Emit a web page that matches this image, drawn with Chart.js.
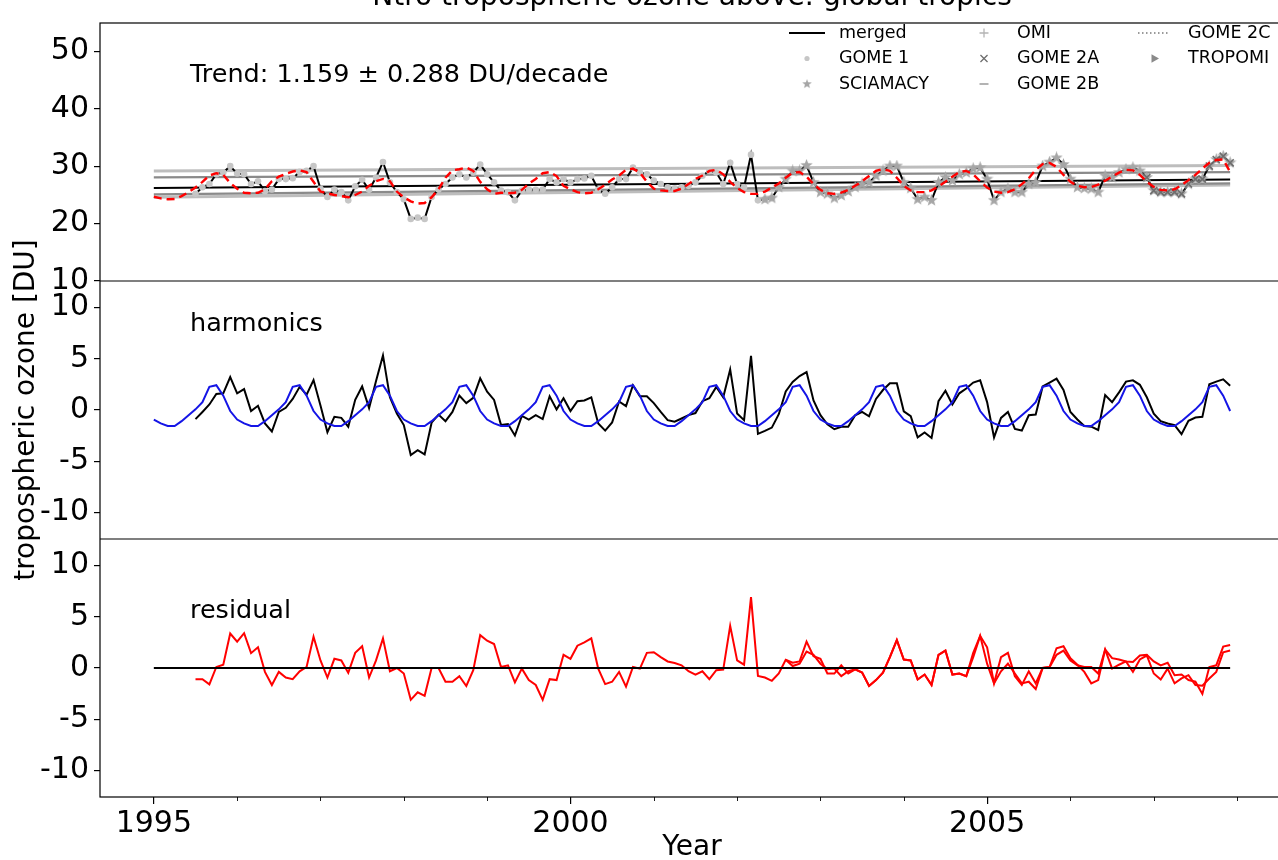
<!DOCTYPE html>
<html>
<head>
<meta charset="utf-8">
<title>tropospheric ozone</title>
<script src="https://cdn.jsdelivr.net/npm/chart.js@4.4.1/dist/chart.umd.min.js"></script>
<style>
  html, body { margin: 0; padding: 0; background: #fff; overflow: hidden; }
  #wrap { position: relative; width: 1291px; height: 860px; }
</style>
</head>
<body>
<div id="wrap"><canvas id="ozoneChart" width="1291" height="860"></canvas></div>
<script>
// monthly series, index 0 = Jan 1995
const startYear = 1995;

const merged = [
  null, null, null, null, null, null,
  25.21, 26.35, 26.92, 28.63, 28.91, 30.05, 28.74, 28.63, 26.92, 27.38, 25.67, 25.96,
  27.77, 27.77, 27.94, 29.03, 29.2, 30.05, 26.07, 24.64, 25.96, 25.5, 24.07, 26.52,
  27.67, 25.9, 28.06, 30.74, 27.2, 25.5, 24.25, 20.83, 21.05, 20.83, 24.64, 25.96,
  26.92, 28.06, 28.63, 28.06, 28.91, 30.33, 28.63, 27.2, 25.78, 25.5, 24.07, 25.78,
  25.96, 25.9, 25.96, 27.77, 27.2, 27.77, 27.2, 27.77, 27.88, 28.35, 25.96, 25.21,
  26.35, 27.77, 27.77, 29.77, 28.91, 28.63, 27.5, 26.92, 26.35, 26.18, 26.35, 26.6,
  27.2, 28.35, 29.2, 28.91, 26.92, 30.62, 26.92, 26.35, 32.04, 24.07, 24.25, 24.47,
  26.35, 27.77, 29.2, 29.2, 30.16, 27.2, 25.5, 25.21, 24.47, 24.93, 25.62, 26.35,
  26.92, 27.2, 28.35, 29.2, 30.05, 30.05, 27.2, 26.18, 24.25, 24.64, 24.07, 27.2,
  28.06, 27.5, 28.63, 28.91, 29.6, 29.77, 27.77, 24.07, 25.5, 26.07, 25.5, 25.5,
  26.92, 27.2, 30.05, 30.74, 31.48, 30.33, 27.77, 26.35, 26.18, 26.07, 25.5, 28.35,
  28.06, 28.91, 29.48, 29.77, 29.2, 28.06, 25.78, 25.5, 25.5, 25.5, 25.21, 26.92,
  27.77, 27.77, 30.05, 31.19, 31.77, 30.62
];

// trend + harmonics fit (red dashed)
const fitted = [
  24.7, 24.4, 24.25, 24.3, 24.8, 25.5, 26.3, 27.3, 28.4, 28.8, 28.5, 27.1,
  26.1, 25.4, 25.3, 25.4, 26.0, 27.4, 28.2, 28.7, 29.1, 29.3, 29.0, 27.3,
  25.6, 25.3, 25.0, 24.8, 24.6, 25.0, 25.6, 26.6, 27.4, 27.8, 27.4, 25.6,
  24.6, 23.9, 23.5, 23.6, 24.6, 26.0, 28.0, 29.3, 29.5, 29.8, 29.2, 27.3,
  26.0, 25.2, 25.4, 25.3, 25.4, 25.9, 27.0, 27.8, 28.8, 29.0, 28.3, 26.6,
  26.0, 25.5, 25.3, 25.4, 26.0, 26.8, 27.7, 28.4, 29.4, 29.6, 28.9, 27.3,
  26.1, 25.8, 25.7, 25.7, 26.1, 26.9, 27.8, 28.4, 29.2, 29.4, 28.6, 27.3,
  26.2, 25.5, 25.2, 25.2, 25.6, 26.3, 27.0, 28.0, 28.9, 29.0, 28.2, 26.9,
  25.9, 25.3, 25.2, 25.4, 25.9, 26.6, 27.4, 28.3, 29.2, 29.5, 29.2, 28.0,
  26.6, 25.8, 25.5, 25.5, 25.8, 26.5, 27.3, 28.2, 29.0, 29.2, 28.6, 27.4,
  26.3, 25.6, 25.4, 25.5, 26.0, 26.9, 27.9, 29.4, 30.4, 30.6, 29.9, 28.5,
  27.3, 26.6, 26.35, 26.4, 26.8, 27.5, 28.2, 28.9, 29.4, 29.3, 28.5, 27.3,
  26.4, 25.9, 25.8, 26.0, 26.7, 27.6, 28.5, 29.6, 30.6, 31.1, 31.2, 29.0
];

// straight trend lines: value at first and last month
const trendMerged = [26.2, 27.7];
const trendUpperA = [29.2, 30.16];
const trendUpperB = [28.06, 29.0];
const trendLowerA = [25.1, 27.04];
const trendLowerB = [24.6, 26.75];

// deseasonalised data and harmonic fit
const harmData = [
  null, null, null, null, null, null,
  -0.89, -0.19, 0.54, 1.56, 1.63, 3.22, 1.63, 2.04, -0.1, 0.41, -1.31, -2.1,
  -0.19, 0.22, 1.08, 2.26, 1.5, 2.93, 0.45, -2.17, -0.67, -0.77, -1.63, 0.99,
  2.3, 0.19, 2.84, 5.33, 1.24, -0.35, -1.47, -4.4, -3.92, -4.34, -1.24, -0.45,
  -1.09, -0.19, 1.4, 0.67, 1.18, 3.09, 1.79, 0.99, -1.47, -1.37, -2.49, -0.57,
  -0.93, -0.51, -0.89, 1.34, 0.06, 1.15, -0.1, 0.86, 0.93, 1.24, -1.31, -2.01,
  -1.21, 0.83, 0.38, 2.42, 1.34, 1.34, 0.67, -0.19, -0.99, -1.15, -0.83, -0.5,
  -0.3, 0.86, 1.15, 2.26, 1.24, 3.96, -0.35, -0.99, 5.3, -2.33, -2.04, -1.72,
  -0.41, 1.82, 2.74, 3.32, 3.7, 0.93, -0.51, -1.4, -1.88, -1.63, -1.63, -0.51,
  -0.19, -0.61, 1.08, 1.95, 2.62, 2.62, -0.13, -0.61, -2.68, -2.2, -2.74, 0.86,
  1.88, 0.54, 1.63, 2.1, 2.68, 2.9, 0.77, -2.68, -0.77, -0.19, -1.85, -2.01,
  -0.51, -0.45, 2.3, 2.68, 3.06, 1.95, -0.19, -0.93, -1.56, -1.63, -1.95, 1.47,
  0.77, 1.72, 2.77, 2.9, 2.46, 1.24, -0.35, -1.09, -1.31, -1.47, -2.36, -1.05,
  -0.73, -0.67, 2.52, 2.77, 2.99, 2.36
];

const harmFit = [
  -0.93, -1.31, -1.56, -1.56, -1.09, -0.51, 0.06, 0.77, 2.26, 2.42, 1.4, -0.1,
  -0.93, -1.31, -1.56, -1.56, -1.09, -0.51, 0.06, 0.77, 2.26, 2.42, 1.4, -0.1,
  -0.93, -1.31, -1.56, -1.56, -1.09, -0.51, 0.06, 0.77, 2.26, 2.42, 1.4, -0.1,
  -0.93, -1.31, -1.56, -1.56, -1.09, -0.51, 0.06, 0.77, 2.26, 2.42, 1.4, -0.1,
  -0.93, -1.31, -1.56, -1.56, -1.09, -0.51, 0.06, 0.77, 2.26, 2.42, 1.4, -0.1,
  -0.93, -1.31, -1.56, -1.56, -1.09, -0.51, 0.06, 0.77, 2.26, 2.42, 1.4, -0.1,
  -0.93, -1.31, -1.56, -1.56, -1.09, -0.51, 0.06, 0.77, 2.26, 2.42, 1.4, -0.1,
  -0.93, -1.31, -1.56, -1.56, -1.09, -0.51, 0.06, 0.77, 2.26, 2.42, 1.4, -0.1,
  -0.93, -1.31, -1.56, -1.56, -1.09, -0.51, 0.06, 0.77, 2.26, 2.42, 1.4, -0.1,
  -0.93, -1.31, -1.56, -1.56, -1.09, -0.51, 0.06, 0.77, 2.26, 2.42, 1.4, -0.1,
  -0.93, -1.31, -1.56, -1.56, -1.09, -0.51, 0.06, 0.77, 2.26, 2.42, 1.4, -0.1,
  -0.93, -1.31, -1.56, -1.56, -1.09, -0.51, 0.06, 0.77, 2.26, 2.42, 1.4, -0.1,
  -0.93, -1.31, -1.56, -1.56, -1.09, -0.51, 0.06, 0.77, 2.26, 2.42, 1.4, -0.1
];

const residual = [
  null, null, null, null, null, null,
  -1.09, -1.09, -1.6, 0.1, 0.32, 3.37, 2.57, 3.4, 1.45, 2.02, -0.38, -1.66,
  -0.38, -0.93, -1.09, -0.32, 0.1, 3.05, 0.74, -0.93, 0.9, 0.74, -0.48, 1.48,
  2.12, -0.93, 0.74, 2.89, -0.32, 0.0, -0.54, -3.11, -2.37, -2.72, 0.0, 0.0,
  -1.34, -1.34, -0.8, -1.76, -0.22, 3.21, 2.66, 2.34, 0.1, 0.26, -1.41, -0.06,
  -1.18, -1.66, -3.11, -1.09, -1.18, 1.29, 0.9, 2.18, 2.5, 2.89, -0.06, -1.57,
  -1.34, -0.38, -1.82, 0.1, -0.06, 1.48, 1.54, 1.06, 0.64, 0.48, 0.26, -0.32,
  -0.64, -0.32, -1.09, -0.22, -0.16, 4.11, 0.74, 0.32, 6.93, -0.77, -0.93, -1.25,
  -0.54, 0.8, 0.51, 0.64, 2.57, 1.16, 0.9, -0.54, -0.54, 0.26, -0.54, -0.13,
  -0.45, -1.76, -1.18, -0.45, 1.06, 2.73, 0.83, 0.74, -1.12, -0.64, -1.66, 1.29,
  1.7, -0.64, -0.54, -0.8, 1.48, 3.14, 2.02, -1.5, 1.06, 1.48, -0.8, -1.66,
  -0.32, -1.5, 0.0, 0.1, 1.93, 2.12, 0.96, 0.32, -0.38, -1.5, -1.18, 1.8,
  0.96, 0.83, 0.64, 0.58, 1.22, 1.29, 0.64, 0.26, 0.51, -0.7, -0.64, -1.18,
  -1.34, -2.53, 0.1, 0.26, 2.09, 2.25
];

// second residual curve, starts at month 91
const residualAltStart = 91;
const residualAlt = [
  0.8, 0.19, 0.42, 1.61, 1.29, 0.42, -0.13, -0.06, -0.8, -0.32, -0.13, -0.45,
  -1.76, -1.18, -0.45, 1.06, 2.73, 0.83, 0.74, -1.12, -0.64, -1.66, 1.29, 1.7,
  -0.64, -0.54, -0.8, 1.06, 3.14, 0.42, -1.5, -0.32, 0.42, -0.54, -1.5, -1.34,
  -2.05, 0.0, 0.1, 1.29, 1.7, 0.74, 0.26, 0.1, 0.1, -0.54, 1.8, -0.06,
  0.32, 0.64, -0.38, 0.83, 1.22, -0.54, -1.12, -0.06, -1.5, -1.02, -0.7, -1.66,
  -1.73, -1.02, -0.38, 1.54, 1.7
];

// month ranges [first, last] where each instrument's markers show
const gome1Months = [6, 90];
const sciaMonths = [88, 155];
const gome2aMonths = [143, 155];

const legendLabels = [
  ['merged', 'GOME 1', 'SCIAMACY'],
  ['OMI', 'GOME 2A', 'GOME 2B'],
  ['GOME 2C', 'TROPOMI']
];
const trendText = 'Trend: 1.159 \u00b1 0.288 DU/decade';
const titleText = 'Ntro tropospheric ozone above: global tropics';
const yLabel = 'tropospheric ozone [DU]';

const FONT = '"DejaVu Sans", sans-serif';
const lastMonth = fitted.length - 1;
const yr = i => startYear + i / 12;
const pts = (arr, offset = 0) => arr.map((v, i) => ({ x: yr(i + offset), y: v }));
const endPts = arr => [{ x: yr(0), y: arr[0] }, { x: yr(lastMonth), y: arr[1] }];
const rangePts = r => pts(merged.slice(r[0], r[1] + 1), r[0]);

// filled star like matplotlib '*'
function starImage(size, color) {
  const c = document.createElement('canvas');
  c.width = c.height = size;
  const g = c.getContext('2d');
  const cx = size / 2, cy = size / 2, R = size / 2, r = R * 0.42;
  g.beginPath();
  for (let k = 0; k < 10; k++) {
    const ang = -Math.PI / 2 + k * Math.PI / 5;
    const rad = k % 2 === 0 ? R : r;
    g.lineTo(cx + rad * Math.cos(ang), cy + rad * Math.sin(ang));
  }
  g.closePath();
  g.fillStyle = color;
  g.fill();
  return c;
}
const starGray = starImage(13, '#a6a6a6');

const lineDs = (data, axis, color, width, order, extra = {}) => Object.assign({
  data, yAxisID: axis, borderColor: color, borderWidth: width, pointRadius: 0,
  fill: false, tension: 0, order
}, extra);

const datasets = [
  // top panel
  lineDs(pts(fitted), 'yTop', '#ff0000', 2.4, 1, { borderDash: [8, 5] }),
  { data: rangePts(gome2aMonths), yAxisID: 'yTop', showLine: false, pointStyle: 'crossRot',
    pointRadius: 5, pointBorderColor: '#6e6e6e', pointBorderWidth: 1.6, order: 2 },
  { data: rangePts(sciaMonths), yAxisID: 'yTop', showLine: false, pointStyle: starGray,
    pointRadius: 6, order: 3 },
  { data: rangePts(gome1Months), yAxisID: 'yTop', showLine: false, pointStyle: 'circle',
    pointRadius: 3.3, pointBackgroundColor: '#c6c6c6', pointBorderWidth: 0, order: 4 },
  lineDs(pts(merged), 'yTop', '#000', 2, 5),
  lineDs(endPts(trendMerged), 'yTop', '#000', 2, 6),
  lineDs(endPts(trendUpperB), 'yTop', '#8a8a8a', 2.2, 7),
  lineDs(endPts(trendLowerA), 'yTop', '#8a8a8a', 2.2, 7),
  lineDs(endPts(trendUpperA), 'yTop', '#bdbdbd', 3, 8),
  lineDs(endPts(trendLowerB), 'yTop', '#bdbdbd', 3, 8),
  // middle panel
  lineDs(pts(harmFit), 'yMid', '#1515e6', 2, 1),
  lineDs(pts(harmData), 'yMid', '#000', 2, 2),
  // bottom panel
  lineDs(endPts([0, 0]), 'yBot', '#000', 2, 1),
  lineDs(pts(residual), 'yBot', '#ff0000', 2, 2),
  lineDs(pts(residualAlt, residualAltStart), 'yBot', '#ff0000', 2, 3)
];

const tickFont = { family: FONT, size: 30 };
const labelFont = { family: FONT, size: 28 };

function panelAxis(min, max, step, extra = {}) {
  return Object.assign({
    type: 'linear', position: 'left', stack: 'panels', stackWeight: 1,
    min, max,
    border: { display: false },
    grid: { drawOnChartArea: false, drawTicks: true, tickLength: 6, color: '#000', lineWidth: 1.2 },
    ticks: { stepSize: step, includeBounds: false, autoSkip: false, color: '#000', font: tickFont, padding: 5 },
    afterFit: s => { s.width = 100; }
  }, extra);
}

function strokeLine(ctx, x1, y1, x2, y2) {
  ctx.beginPath();
  ctx.moveTo(x1, y1);
  ctx.lineTo(x2, y2);
  ctx.stroke();
}

const frameAndText = {
  id: 'frameAndText',
  afterDraw(chart) {
    const { ctx, chartArea: a, scales } = chart;
    ctx.save();

    // minor year ticks
    ctx.strokeStyle = '#000';
    ctx.lineWidth = 0.9;
    for (let y = Math.ceil(scales.x.min); y <= scales.x.max; y++) {
      if (y % 5 === 0) continue;
      const px = Math.round(scales.x.getPixelForValue(y)) + 0.5;
      strokeLine(ctx, px, a.bottom, px, a.bottom + 4);
    }

    // spines
    ctx.lineWidth = 1.2;
    ctx.strokeRect(a.left, a.top, a.right - a.left, a.bottom - a.top);
    strokeLine(ctx, a.left, scales.yMid.top, a.right, scales.yMid.top);
    strokeLine(ctx, a.left, scales.yBot.top, a.right, scales.yBot.top);

    // panel texts
    ctx.fillStyle = '#000';
    ctx.font = '25.5px ' + FONT;
    ctx.textAlign = 'left';
    ctx.textBaseline = 'middle';
    ctx.fillText(trendText, a.left + 90, scales.yTop.top + 52);
    ctx.fillText('harmonics', a.left + 90, scales.yMid.top + 43);
    ctx.fillText('residual', a.left + 90, scales.yBot.top + 72);

    // title, mostly cut off at the top
    ctx.font = '28px ' + FONT;
    ctx.textAlign = 'center';
    ctx.textBaseline = 'alphabetic';
    ctx.fillText(titleText, (a.left + a.right) / 2, 4.5);

    // legend
    const rowY = [33, 58.5, 84];
    const handleX = [807, 984, 1154];
    const textX = [839, 1017, 1188];
    ctx.font = '17.5px ' + FONT;
    ctx.textAlign = 'left';
    ctx.textBaseline = 'middle';
    legendLabels.forEach((col, c) => col.forEach((label, r) => {
      ctx.fillStyle = '#000';
      ctx.fillText(label, textX[c], rowY[r]);
      const hx = handleX[c], hy = rowY[r];
      ctx.save();
      if (label === 'merged') {
        ctx.strokeStyle = '#000'; ctx.lineWidth = 2;
        strokeLine(ctx, hx - 18, hy, hx + 18, hy);
      } else if (label === 'GOME 2C') {
        ctx.strokeStyle = '#7a7a7a'; ctx.lineWidth = 1.5; ctx.setLineDash([1.5, 2.5]);
        strokeLine(ctx, hx - 16, hy, hx + 16, hy);
      } else if (label === 'SCIAMACY') {
        ctx.drawImage(starGray, hx - 5, hy - 5, 10, 10);
      } else {
        const styles = {
          'GOME 1': ['circle', '#c6c6c6', 2.6, 0],
          'OMI': ['cross', '#b4b4b4', 4.5, 0],
          'GOME 2A': ['crossRot', '#6e6e6e', 5, 0],
          'GOME 2B': ['line', '#8a8a8a', 4.5, 0],
          'TROPOMI': ['triangle', '#8a8a8a', 5, 90]
        };
        const [ps, col2, rad, rot] = styles[label];
        ctx.fillStyle = col2; ctx.strokeStyle = col2; ctx.lineWidth = 1.3;
        Chart.helpers.drawPoint(ctx, { pointStyle: ps, radius: rad, rotation: rot, borderWidth: ps === 'circle' || ps === 'triangle' ? 0 : 1.3 }, hx, hy);
      }
      ctx.restore();
    }));

    ctx.restore();
  }
};

const ctx = document.getElementById('ozoneChart').getContext('2d');
new Chart(ctx, {
  type: 'line',
  data: { datasets },
  options: {
    responsive: false,
    animation: false,
    events: [],
    layout: { padding: { top: 7, right: 0, left: 0, bottom: 0 } },
    plugins: { legend: { display: false }, tooltip: { enabled: false }, title: { display: false } },
    scales: {
      x: {
        type: 'linear', min: 1994.354, max: 2008.563,
        border: { display: false },
        grid: {
          drawOnChartArea: false, tickLength: 7, color: '#000', lineWidth: 1.2,
          tickColor: c => (c.tick && c.tick.value % 5 === 0) ? '#000' : 'rgba(0,0,0,0)'
        },
        ticks: {
          stepSize: 1, includeBounds: false, autoSkip: false, maxRotation: 0,
          color: '#000', font: tickFont, padding: 2,
          callback: v => (v % 5 === 0 ? String(v) : '')
        },
        title: { display: true, text: 'Year', color: '#000', font: labelFont, padding: { top: 0, bottom: -5 } },
        afterFit: s => { s.height = 63; }
      },
      yBot: panelAxis(-12.6, 12.6, 5),
      yMid: panelAxis(-12.6, 12.6, 5, {
        title: { display: true, text: yLabel, color: '#000', font: labelFont, padding: { top: 10, bottom: 0 } }
      }),
      yTop: panelAxis(10, 55, 10)
    }
  },
  plugins: [frameAndText]
});
</script>
</body>
</html>
